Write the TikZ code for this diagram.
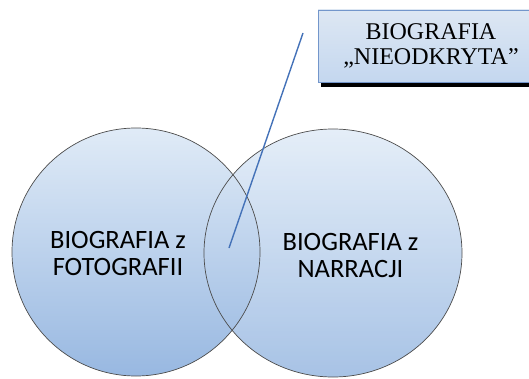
\documentclass[tikz,border=0pt]{standalone}
\usepackage{fontspec}
\setmainfont{Liberation Serif}
\newfontfamily\calfont{Carlito}
\usepackage{tikz}
\usetikzlibrary{calc}

\definecolor{circtop}{HTML}{E0EBF7}
\definecolor{circbot}{HTML}{98B8E1}
\definecolor{boxtop}{HTML}{DDE7F3}
\definecolor{boxbot}{HTML}{C4D7EF}
\definecolor{boxedge}{HTML}{7396CB}
\definecolor{linkblue}{HTML}{4472B8}

\tikzset{
  setlabel/.style={align=center, font=\calfont\fontsize{26.5}{27}\selectfont, text=black},
  calloutbox/.style={draw=boxedge, line width=0.8pt, top color=boxtop, bottom color=boxbot,
    minimum width=226pt, minimum height=72pt, inner sep=0pt, align=center,
    font=\fontsize{24}{25}\selectfont}
}

\begin{document}
\begin{tikzpicture}[x=1pt, y=1pt]
    \useasboundingbox (0,0) rectangle (529,378);

    % Two overlapping sets
    \shade[top color=circtop, bottom color=circbot] (136,126) circle (124);
    \shade[top color=circtop, bottom color=circbot, opacity=0.85] (333,125) ellipse (129 and 124);
    \draw[gray!60!black, line width=0.7pt] (136,126) circle (124);
    \draw[gray!60!black, line width=0.7pt] (333,125) ellipse (129 and 124);

    % Set labels
    \node[setlabel] (fotografia) at (118,125) {BIOGRAFIA z\\FOTOGRAFII};
    \node[setlabel] (narracja) at (350.5,123) {BIOGRAFIA z\\NARRACJI};

    % Callout box with shadow
    \fill[black] (321,291) rectangle (547,363);
    \node[calloutbox] (ukryta) at (431,332) {BIOGRAFIA\\,,NIEODKRYTA''};

    % Pointer into the overlap
    \coordinate (tail) at (303,345);
    \coordinate (tip) at (229,130);
    \draw[linkblue, line width=1.4pt] (tail) -- (tip);
\end{tikzpicture}
\end{document}
